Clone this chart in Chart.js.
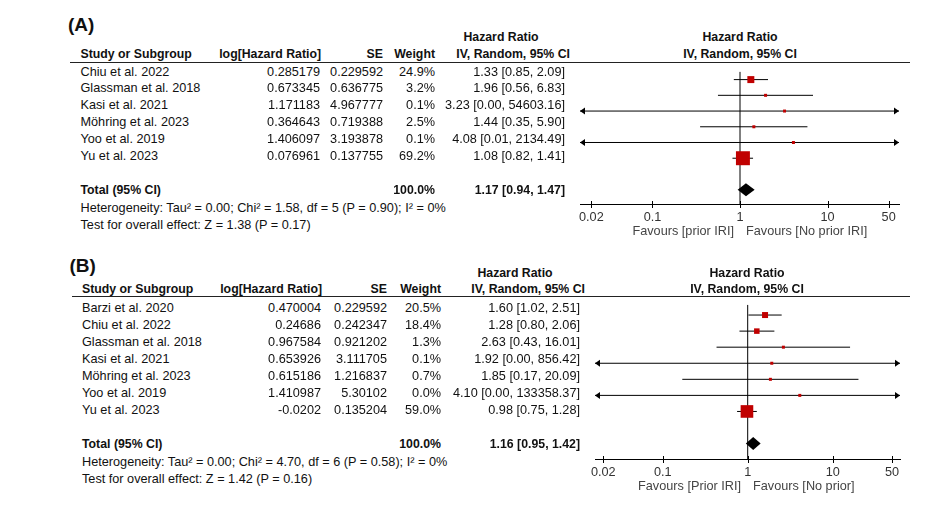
<!DOCTYPE html>
<html>
<head>
<meta charset="utf-8">
<script src="https://cdn.jsdelivr.net/npm/chart.js@4.4.1/dist/chart.umd.min.js"></script>
<style>
  html, body { margin: 0; padding: 0; background: #fff; }
  #page { position: relative; width: 952px; height: 505px; overflow: hidden;
          font-family: "Liberation Sans", Arial, sans-serif; font-size: 12.7px; color: #111; }
  .t { position: absolute; white-space: nowrap; line-height: 14px; }
  .b { font-weight: bold; font-size: 12.3px; }
  .rule { position: absolute; height: 1px; background: #222; }
  canvas { position: absolute; }
</style>
</head>
<body>
<div id="page">
  <canvas id="plotA" width="360" height="172" style="left:560px;top:62px"></canvas>
  <canvas id="plotB" width="345" height="193" style="left:575px;top:296px"></canvas>
</div>
<script>
// ---- panel A data ----
const studiesA = ['Chiu et al. 2022', 'Glassman et al. 2018', 'Kasi et al. 2021', 'Möhring et al. 2023', 'Yoo et al. 2019', 'Yu et al. 2023'];
const logHrA = [0.285179, 0.673345, 1.171183, 0.364643, 1.406097, 0.076961];
const seA = [0.229592, 0.636775, 4.967777, 0.719388, 3.193878, 0.137755];
const weightA = [24.9, 3.2, 0.1, 2.5, 0.1, 69.2];
const hrA = [1.33, 1.96, 3.23, 1.44, 4.08, 1.08];
const lowA = [0.85, 0.56, 0.00, 0.35, 0.01, 0.82];
const highA = [2.09, 6.83, 54603.16, 5.90, 2134.49, 1.41];
const totalA = [1.17, 0.94, 1.47];
const hetA = 'Heterogeneity: Tau² = 0.00; Chi² = 1.58, df = 5 (P = 0.90); I² = 0%';
const testA = 'Test for overall effect: Z = 1.38 (P = 0.17)';
const favoursA = ['Favours [prior IRI]', 'Favours [No prior IRI]'];

// ---- panel B data ----
const studiesB = ['Barzi et al. 2020', 'Chiu et al. 2022', 'Glassman et al. 2018', 'Kasi et al. 2021', 'Möhring et al. 2023', 'Yoo et al. 2019', 'Yu et al. 2023'];
const logHrB = [0.470004, 0.24686, 0.967584, 0.653926, 0.615186, 1.410987, -0.0202];
const seB = [0.229592, 0.242347, 0.921202, 3.111705, 1.216837, 5.30102, 0.135204];
const weightB = [20.5, 18.4, 1.3, 0.1, 0.7, 0.0, 59.0];
const hrB = [1.60, 1.28, 2.63, 1.92, 1.85, 4.10, 0.98];
const lowB = [1.02, 0.80, 0.43, 0.00, 0.17, 0.00, 0.75];
const highB = [2.51, 2.06, 16.01, 856.42, 20.09, 133358.37, 1.28];
const totalB = [1.16, 0.95, 1.42];
const hetB = 'Heterogeneity: Tau² = 0.00; Chi² = 4.70, df = 6 (P = 0.58); I² = 0%';
const testB = 'Test for overall effect: Z = 1.42 (P = 0.16)';
const favoursB = ['Favours [Prior IRI]', 'Favours [No prior]'];

const axisTicks = [0.02, 0.1, 1, 10, 50];

const page = document.getElementById('page');
const FONT = '"Liberation Sans", Arial, sans-serif';

function txt(s, x, y, align, bold, extra) {
    const d = document.createElement('div');
    d.className = 't' + (bold ? ' b' : '');
    d.textContent = s;
    d.style.left = x + 'px';
    d.style.top = (y - 7) + 'px';
    if (align === 'right') d.style.transform = 'translateX(-100%)';
    if (align === 'center') d.style.transform = 'translateX(-50%)';
    if (extra) Object.assign(d.style, extra);
    page.appendChild(d);
}

function rule(x1, x2, y) {
    const d = document.createElement('div');
    d.className = 'rule';
    d.style.left = x1 + 'px';
    d.style.width = (x2 - x1) + 'px';
    d.style.top = y + 'px';
    page.appendChild(d);
}

const ci = (h, l, u) => `${h.toFixed(2)} [${l.toFixed(2)}, ${u.toFixed(2)}]`;

// table text for one panel; c = column layout
function drawTable(p, c) {
    txt(p.label, c.left - 12.5, c.titleY, 'left', true, { fontSize: '19px', lineHeight: '14px' });
    txt('Hazard Ratio', c.hrHead, c.headY - 16.5, 'center', true);
    txt('Hazard Ratio', c.plotMid, c.headY - 16.5, 'center', true);
    txt('Study or Subgroup', c.left, c.headY, 'left', true);
    txt('log[Hazard Ratio]', c.logR + 1, c.headY, 'right', true);
    txt('SE', c.seR, c.headY, 'right', true);
    txt('Weight', c.wR, c.headY, 'right', true);
    txt('IV, Random, 95% CI', c.ciHeadR, c.headY, 'right', true);
    txt('IV, Random, 95% CI', c.plotMid, c.headY, 'center', true);
    rule(c.ruleL, 910, c.ruleY);
    p.studies.forEach((s, i) => {
        const y = c.rowY + c.step * i;
        txt(s, c.left, y, 'left');
        txt(String(p.logHr[i]), c.logR, y, 'right');
        txt(String(p.se[i]), c.seR, y, 'right');
        txt(p.weight[i].toFixed(1) + '%', c.wR, y, 'right');
        txt(ci(p.hr[i], p.low[i], p.high[i]), c.ciR, y, 'right');
    });
    const ty = c.rowY + c.step * (p.studies.length + 1);
    txt('Total (95% CI)', c.left, ty, 'left', true);
    txt('100.0%', c.wR, ty, 'right', true);
    txt(ci(p.total[0], p.total[1], p.total[2]), c.ciR, ty, 'right', true);
    txt(p.het, c.left, ty + 18.5, 'left');
    txt(p.test, c.left, ty + 35.5, 'left');
    txt(p.favours[0], c.favL, c.favY, 'right', false, { color: '#444' });
    txt(p.favours[1], c.favR, c.favY, 'left', false, { color: '#444' });
}

// whiskers, arrows, null line, diamond and axis tick marks
const forestPlugin = {
    id: 'forest',
    beforeDatasetsDraw(chart, args, opts) {
        const { ctx, chartArea: a } = chart;
        const xs = chart.scales.x, ys = chart.scales.y;
        ctx.save();
        ctx.strokeStyle = '#000';
        ctx.fillStyle = '#000';
        ctx.lineWidth = 1;
        // line of no effect
        const x1 = xs.getPixelForValue(1);
        ctx.beginPath();
        ctx.moveTo(x1, a.top);
        ctx.lineTo(x1, a.bottom);
        ctx.stroke();
        opts.low.forEach((lo, i) => {
            const hi = opts.high[i];
            const y = ys.getPixelForValue(i);
            const clipL = lo <= xs.min, clipR = hi >= xs.max;
            const pl = clipL ? a.left : xs.getPixelForValue(lo);
            const pr = clipR ? a.right : xs.getPixelForValue(hi);
            ctx.beginPath();
            ctx.moveTo(pl, y);
            ctx.lineTo(pr, y);
            ctx.stroke();
            if (clipL) {
                ctx.beginPath();
                ctx.moveTo(a.left, y);
                ctx.lineTo(a.left + 5, y - 3.5);
                ctx.lineTo(a.left + 5, y + 3.5);
                ctx.closePath();
                ctx.fill();
            }
            if (clipR) {
                ctx.beginPath();
                ctx.moveTo(a.right, y);
                ctx.lineTo(a.right - 5, y - 3.5);
                ctx.lineTo(a.right - 5, y + 3.5);
                ctx.closePath();
                ctx.fill();
            }
        });
        // pooled estimate diamond
        const t = opts.total;
        const yd = ys.getPixelForValue(opts.low.length + 1);
        ctx.beginPath();
        ctx.moveTo(xs.getPixelForValue(t[1]), yd);
        ctx.lineTo(xs.getPixelForValue(t[0]), yd - 6.5);
        ctx.lineTo(xs.getPixelForValue(t[2]), yd);
        ctx.lineTo(xs.getPixelForValue(t[0]), yd + 6.5);
        ctx.closePath();
        ctx.fill();
        ctx.restore();
    },
    afterDraw(chart) {
        const { ctx, chartArea: a } = chart;
        const xs = chart.scales.x;
        ctx.save();
        ctx.strokeStyle = '#000';
        ctx.lineWidth = 1;
        axisTicks.forEach(v => {
            const x = Math.round(xs.getPixelForValue(v)) + 0.5;
            ctx.beginPath();
            ctx.moveTo(x, a.bottom - 3);
            ctx.lineTo(x, a.bottom + 4);
            ctx.stroke();
        });
        ctx.restore();
    }
};

// square side grows with study weight
const sideFor = w => Math.max(3, 2.1 * Math.sqrt(w) - 3.5);

function makePlot(id, p, s) {
    new Chart(document.getElementById(id), {
        type: 'scatter',
        data: {
            datasets: [{
                data: p.hr.map((v, i) => ({ x: v, y: i })),
                pointStyle: 'rect',
                pointRadius: ctx => sideFor(p.weight[ctx.dataIndex]) / Math.SQRT2,
                backgroundColor: '#c00000',
                borderWidth: 0
            }]
        },
        options: {
            responsive: false,
            animation: false,
            events: [],
            layout: { padding: { left: s.padL, right: s.padR, top: 0, bottom: 0 } },
            plugins: {
                legend: { display: false },
                tooltip: { enabled: false },
                forest: { low: p.low, high: p.high, total: p.total }
            },
            scales: {
                x: {
                    type: 'logarithmic',
                    min: s.min,
                    max: s.max,
                    afterBuildTicks: sc => { sc.ticks = axisTicks.map(v => ({ value: v })); },
                    afterFit: sc => { sc.height = 30; },
                    grid: { drawOnChartArea: false, drawTicks: false },
                    border: { display: true, color: '#000', width: 1 },
                    ticks: {
                        autoSkip: false,
                        maxRotation: 0,
                        padding: 6,
                        color: '#333',
                        font: { family: FONT, size: 12.7 },
                        callback: v => String(v)
                    }
                },
                y: {
                    type: 'linear',
                    reverse: true,
                    display: false,
                    min: s.yMin,
                    max: s.yMax
                }
            }
        },
        plugins: [forestPlugin]
    });
}

const panelA = { label: '(A)', studies: studiesA, logHr: logHrA, se: seA, weight: weightA, hr: hrA,
    low: lowA, high: highA, total: totalA, het: hetA, test: testA, favours: favoursA };
const panelB = { label: '(B)', studies: studiesB, logHr: logHrB, se: seB, weight: weightB, hr: hrB,
    low: lowB, high: highB, total: totalB, het: hetB, test: testB, favours: favoursB };

drawTable(panelA, { left: 80.5, titleY: 25, headY: 53.5, logR: 320, seR: 383, wR: 435, ciR: 565, ciHeadR: 570,
    hrHead: 501, plotMid: 740, ruleL: 70, ruleY: 62, rowY: 71.5, step: 16.9, favL: 734, favR: 746, favY: 231 });
drawTable(panelB, { left: 82, titleY: 266, headY: 289, logR: 321, seR: 387, wR: 441, ciR: 580, ciHeadR: 585,
    hrHead: 515, plotMid: 747, ruleL: 72, ruleY: 296, rowY: 307.7, step: 17, favL: 741, favR: 753, favY: 486 });

makePlot('plotA', panelA, { padL: 20, padR: 21, min: Math.pow(10, -160 / 87.5), max: Math.pow(10, 159 / 87.5),
    yMin: (62 - 70.3) / 16.9, yMax: (204 - 70.3) / 16.9 });
makePlot('plotB', panelB, { padL: 20, padR: 20, min: Math.pow(10, -152.7 / 85), max: Math.pow(10, 152.3 / 85),
    yMin: (296 - 306.7) / 17, yMax: (459 - 306.7) / 17 });
</script>
</body>
</html>
